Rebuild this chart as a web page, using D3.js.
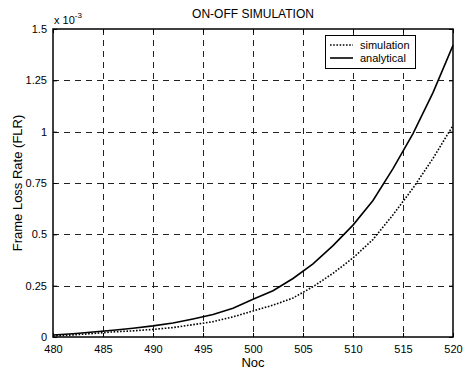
<!DOCTYPE html>
<html>
<head>
<meta charset="utf-8">
<script src="https://cdn.jsdelivr.net/npm/d3@7"></script>
<style>
  body { margin: 0; background: #fff; }
  text { font-family: "Liberation Sans", Arial, sans-serif; fill: #000; }
</style>
</head>
<body>
<div id="container"></div>
<script>
/* CONSTANTS AND GLOBALS */
const width = 466,
  height = 370,
  margin = { top: 29, bottom: 33, left: 53, right: 10 };

// data, FLR in units of 1e-3
const noc = [480, 482, 484, 486, 488, 490, 492, 494, 496, 498, 500,
  502, 504, 506, 508, 510, 512, 514, 516, 518, 520];
const simulation = [0.005, 0.010, 0.017, 0.025, 0.030, 0.037, 0.046, 0.060, 0.075, 0.098, 0.127,
  0.155, 0.190, 0.245, 0.310, 0.385, 0.475, 0.595, 0.725, 0.870, 1.030];
const analytical = [0.010, 0.016, 0.024, 0.033, 0.043, 0.054, 0.068, 0.088, 0.110, 0.140, 0.184,
  0.225, 0.285, 0.356, 0.445, 0.545, 0.665, 0.820, 0.990, 1.190, 1.420];
const xTicks = [480, 485, 490, 495, 500, 505, 510, 515, 520];
const yTicks = [0, 0.25, 0.5, 0.75, 1, 1.25, 1.5];
const yTickLabels = ["0", "0.25", "0.5", "0.75", "1", "1.25", "1.5"];

const svg = d3.select("#container")
  .append("svg")
  .attr("width", width)
  .attr("height", height);

// scales
const xScale = d3.scaleLinear()
  .domain([480, 520])
  .range([margin.left, width - margin.right - 3]);

const yScale = d3.scaleLinear()
  .domain([0, 1.5])
  .range([height - margin.bottom, margin.top]);

const x0 = xScale.range()[0], x1 = xScale.range()[1];
const y0 = yScale.range()[0], y1 = yScale.range()[1];

// dashed grid
svg.append("g")
  .selectAll("line")
  .data(xTicks.slice(1, -1))
  .join("line")
  .attr("x1", d => xScale(d) + 0.5)
  .attr("x2", d => xScale(d) + 0.5)
  .attr("y1", y1)
  .attr("y2", y0)
  .attr("stroke", "#222")
  .attr("stroke-dasharray", "6,5");

svg.append("g")
  .selectAll("line")
  .data(yTicks.slice(1, -1))
  .join("line")
  .attr("x1", x0)
  .attr("x2", x1)
  .attr("y1", d => Math.round(yScale(d)) + 0.5)
  .attr("y2", d => Math.round(yScale(d)) + 0.5)
  .attr("stroke", "#222")
  .attr("stroke-dasharray", "6,5");

// axes (ticks inside)
const xAxis = d3.axisBottom(xScale).tickValues(xTicks).tickSizeInner(-4).tickSizeOuter(0).tickPadding(8);
const yAxis = d3.axisLeft(yScale).tickValues(yTicks).tickFormat((d, i) => yTickLabels[i])
  .tickSizeInner(-4).tickSizeOuter(0).tickPadding(6);

const xAxisGroup = svg.append("g")
  .attr("transform", `translate(0, ${y0})`)
  .call(xAxis);
const yAxisGroup = svg.append("g")
  .attr("transform", `translate(${x0}, 0)`)
  .call(yAxis);

// top/right ticks
svg.append("g").attr("transform", `translate(0, ${y1})`)
  .call(d3.axisTop(xScale).tickValues(xTicks).tickSizeInner(-4).tickSizeOuter(0).tickFormat(""));
svg.append("g").attr("transform", `translate(${x1}, 0)`)
  .call(d3.axisRight(yScale).tickValues(yTicks).tickSizeInner(-4).tickSizeOuter(0).tickFormat(""));

svg.selectAll(".domain").remove();
svg.selectAll(".tick text").style("font-size", "11px").attr("fill", "#000");
svg.selectAll(".tick line").attr("stroke", "#000");

// frame
svg.append("rect")
  .attr("x", x0)
  .attr("y", y1)
  .attr("width", x1 - x0)
  .attr("height", y0 - y1)
  .attr("fill", "none")
  .attr("stroke", "#000")
  .attr("stroke-width", 1.5);

// lines
const lineGen = series => d3.line()
  .x((d, i) => xScale(noc[i]))
  .y(d => yScale(d))(series);

svg.append("path")
  .attr("d", lineGen(simulation))
  .attr("fill", "none")
  .attr("stroke", "#000")
  .attr("stroke-width", 1.6)
  .attr("stroke-dasharray", "1.6,1.6");

svg.append("path")
  .attr("d", lineGen(analytical))
  .attr("fill", "none")
  .attr("stroke", "#000")
  .attr("stroke-width", 1.6);

// legend
const legend = svg.append("g");
legend.append("rect")
  .attr("x", 325.5).attr("y", 35.5)
  .attr("width", 90).attr("height", 33)
  .attr("fill", "#fff").attr("stroke", "#000");
const legendItems = [
  { name: "simulation", dash: "1.6,1.6" },
  { name: "analytical", dash: null }
];
legendItems.forEach((d, i) => {
  const yy = 45 + i * 13;
  legend.append("line")
    .attr("x1", 330).attr("x2", 353)
    .attr("y1", yy).attr("y2", yy)
    .attr("stroke", "#000").attr("stroke-width", 1.6)
    .attr("stroke-dasharray", d.dash);
  legend.append("text")
    .attr("x", 360).attr("y", yy + 4)
    .style("font-size", "11px")
    .text(d.name);
});

// titles
svg.append("text")
  .attr("x", (x0 + x1) / 2).attr("y", 18)
  .attr("text-anchor", "middle")
  .style("font-size", "12px")
  .text("ON-OFF SIMULATION");

svg.append("text")
  .attr("x", (x0 + x1) / 2).attr("y", 367)
  .attr("text-anchor", "middle")
  .style("font-size", "13px")
  .text("Noc");

svg.append("text")
  .attr("transform", `translate(22, ${(y0 + y1) / 2}) rotate(-90)`)
  .attr("text-anchor", "middle")
  .style("font-size", "13px")
  .text("Frame Loss Rate (FLR)");

const expo = svg.append("text")
  .attr("x", 54).attr("y", 24)
  .style("font-size", "11px");
expo.append("tspan").text("x 10");
expo.append("tspan").attr("dy", -6).style("font-size", "8px").text("-3");
</script>
</body>
</html>
